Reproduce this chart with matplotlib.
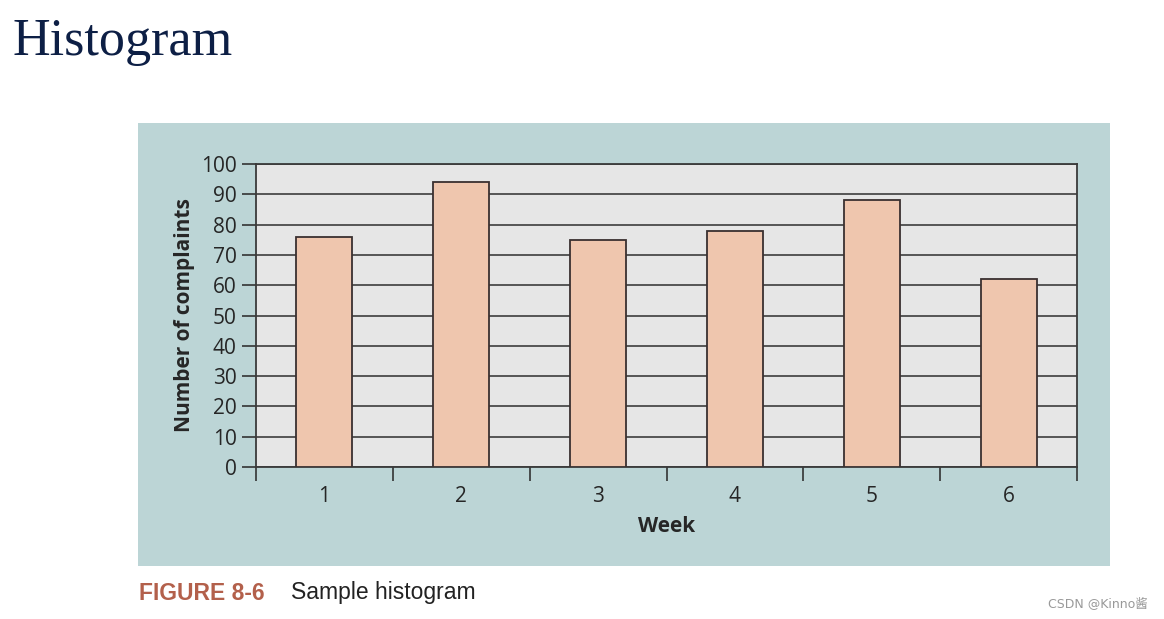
import matplotlib.pyplot as plt

# 数据
weeks = ['1', '2', '3', '4', '5', '6']
complaints = [76, 94, 75, 78, 88, 62]
y_ticks = list(range(0, 101, 10))

W, H = 1164, 619
fig = plt.figure(figsize=(W / 100, H / 100), dpi=100)
fig.patch.set_facecolor('white')

# 背景面板 (先画, 在坐标轴下面)
bg = fig.add_axes([138 / W, 1 - 566 / H, (1110 - 138) / W, (566 - 123) / H])
bg.set_facecolor('#bcd5d6')
bg.set_xticks([])
bg.set_yticks([])
for s in bg.spines.values():
    s.set_visible(False)

ax = fig.add_axes([256 / W, 1 - 467 / H, 821 / W, 303 / H])
ax.set_facecolor('#e6e6e6')

x = [i + 0.5 for i in range(len(weeks))]
ax.bar(x, complaints, width=0.41, color='#efc6ae', edgecolor='#3a3030',
       linewidth=1.3, zorder=3)

tick_font = dict(fontsize=15, family='Open Sans', color='#262626')
ax.set_xlim(0, 6)
ax.set_ylim(0, 100)
ax.set_yticks(y_ticks)
ax.set_yticklabels([str(v) for v in y_ticks], **tick_font)
ax.yaxis.grid(True, color='#4a4a4a', linewidth=1.3, zorder=1)
ax.set_axisbelow(True)

# x轴: 刻度在分界处, 标签在中心
ax.set_xticks(range(7))
ax.set_xticklabels([])
ax.set_xticks(x, minor=True)
ax.set_xticklabels(weeks, minor=True, **tick_font)
ax.tick_params(axis='x', which='minor', length=0, pad=14)
ax.tick_params(axis='x', which='major', length=10, width=1.2, color='#333333')
ax.tick_params(axis='y', length=10, width=1.2, color='#333333', pad=4)

for s in ax.spines.values():
    s.set_color('#3a3a3a')
    s.set_linewidth(1.3)

ax.set_xlabel('Week', fontsize=15, fontweight='bold', family='Open Sans',
              color='#262626', labelpad=6)
ax.set_ylabel('Number of complaints', fontsize=15, fontweight='bold', family='Open Sans',
              color='#262626', labelpad=4)

fig.text(12 / W, 1 - 42 / H, 'Histogram', fontsize=37.5, family='Liberation Serif',
         color='#0d1f45', va='center', ha='left')
fig.text(139 / W, 1 - 593 / H, 'FIGURE 8-6', fontsize=16.5, fontweight='bold',
         family='Liberation Sans', color='#b3604b', va='center', ha='left')
fig.text(291 / W, 1 - 593 / H, 'Sample histogram', fontsize=16.5,
         family='Liberation Sans', color='#222222', va='center', ha='left')
fig.text(1048 / W, 1 - 604 / H, 'CSDN @Kinno酱', fontsize=9,
         family=['DejaVu Sans', 'Noto Sans CJK SC'], color='#999999', va='center', ha='left')

fig.savefig('out.png', dpi=100)
